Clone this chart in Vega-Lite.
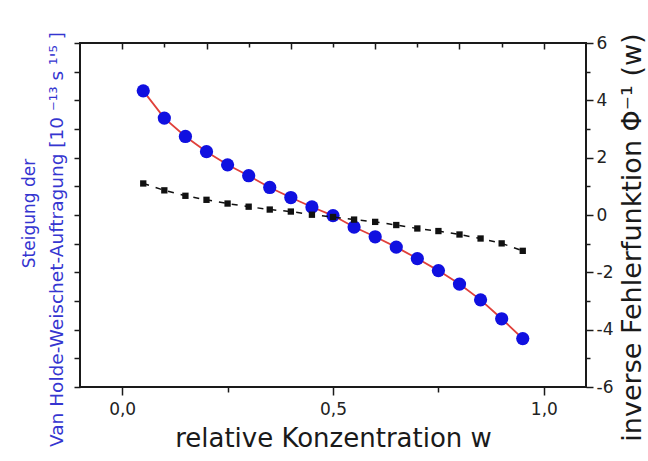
{
  "$schema": "https://vega.github.io/schema/vega-lite/v6.json",
  "autosize": {"type": "none"},
  "padding": {"left": 80, "top": 43, "right": 62, "bottom": 74},
  "width": 506,
  "height": 344,
  "background": "white",
  "config": {
    "view": {"stroke": "#1a1a1a", "strokeWidth": 2},
    "axis": {
      "domain": false,
      "grid": false,
      "tickColor": "#1a1a1a",
      "tickWidth": 1.5,
      "labelFont": "DejaVu Sans",
      "labelFontSize": 17,
      "labelColor": "#222222",
      "titleFont": "DejaVu Sans",
      "titleFontWeight": "normal",
      "titleColor": "#1a1a1a"
    }
  },
  "data": {
    "values": [
      {"w": 0.05, "steigung": 4.33, "phi": 1.10},
      {"w": 0.10, "steigung": 3.38, "phi": 0.86},
      {"w": 0.15, "steigung": 2.74, "phi": 0.67},
      {"w": 0.20, "steigung": 2.21, "phi": 0.53},
      {"w": 0.25, "steigung": 1.75, "phi": 0.40},
      {"w": 0.30, "steigung": 1.37, "phi": 0.29},
      {"w": 0.35, "steigung": 0.96, "phi": 0.19},
      {"w": 0.40, "steigung": 0.61, "phi": 0.12},
      {"w": 0.45, "steigung": 0.28, "phi": 0.01},
      {"w": 0.50, "steigung": -0.02, "phi": -0.07},
      {"w": 0.55, "steigung": -0.42, "phi": -0.16},
      {"w": 0.60, "steigung": -0.76, "phi": -0.24},
      {"w": 0.65, "steigung": -1.12, "phi": -0.35},
      {"w": 0.70, "steigung": -1.52, "phi": -0.47},
      {"w": 0.75, "steigung": -1.94, "phi": -0.56},
      {"w": 0.80, "steigung": -2.41, "phi": -0.68},
      {"w": 0.85, "steigung": -2.96, "phi": -0.82},
      {"w": 0.90, "steigung": -3.62, "phi": -0.99},
      {"w": 0.95, "steigung": -4.31, "phi": -1.25}
    ]
  },
  "resolve": {
    "scale": {"x": "shared", "y": "shared"},
    "axis": {"x": "independent", "y": "independent"}
  },
  "layer": [
    {
      "mark": {"type": "line", "color": "#e0403a", "strokeWidth": 1.8},
      "encoding": {
        "x": {
          "field": "w", "type": "quantitative",
          "scale": {"domain": [-0.1, 1.1], "nice": false, "zero": false},
          "axis": {
            "orient": "bottom",
            "values": [0, 0.5, 1],
            "tickSize": 8,
            "labelPadding": 6,
            "labelExpr": "replace(format(datum.value, '.1f'), '.', ',')",
            "title": "relative Konzentration w",
            "titleFontSize": 26,
            "titleX": 253,
            "titleY": 51,
            "titleBaseline": "middle",
            "titleAlign": "center"
          }
        },
        "y": {
          "field": "steigung", "type": "quantitative",
          "scale": {"domain": [-6, 6], "nice": false, "zero": false},
          "axis": {
            "orient": "left",
            "values": [-6, -5, -4, -3, -2, -1, 0, 1, 2, 3, 4, 5, 6],
            "tickSize": 6,
            "labels": false,
            "title": "Steigung der",
            "titleColor": "#3535d0",
            "titleFontSize": 17,
            "titleAngle": -90,
            "titleX": -51,
            "titleY": 170,
            "titleBaseline": "middle",
            "titleAlign": "center"
          }
        }
      }
    },
    {
      "mark": {"type": "circle", "color": "#1010e0", "opacity": 1, "size": 175},
      "encoding": {
        "x": {
          "field": "w", "type": "quantitative",
          "axis": {
            "orient": "bottom",
            "values": [0.25, 0.75],
            "tickSize": 5,
            "labels": false,
            "title": null
          }
        },
        "y": {
          "field": "steigung", "type": "quantitative",
          "axis": {
            "orient": "left",
            "ticks": false,
            "labels": false,
            "title": "Van Holde-Weischet-Auftragung [10 ⁻¹³ s ¹'⁵  ]",
            "titleColor": "#3535d0",
            "titleFontSize": 18.5,
            "titleAngle": -90,
            "titleX": -24,
            "titleY": 196,
            "titleBaseline": "middle",
            "titleAlign": "center"
          }
        }
      }
    },
    {
      "mark": {"type": "line", "color": "#111111", "strokeWidth": 1.5, "strokeDash": [6, 7]},
      "encoding": {
        "x": {
          "field": "w", "type": "quantitative",
          "axis": {
            "orient": "top",
            "values": [0.1, 0.3, 0.5, 0.7, 0.9],
            "tickSize": -4,
            "labels": false,
            "title": null
          }
        },
        "y": {
          "field": "phi", "type": "quantitative",
          "axis": {
            "orient": "right",
            "values": [-6, -4, -2, 0, 2, 4, 6],
            "tickSize": 7,
            "labelPadding": 3,
            "labelExpr": "'' + datum.value",
            "title": "inverse Fehlerfunktion       Φ⁻¹  (w)",
            "titleFontSize": 27,
            "titleAngle": -90,
            "titleX": 46,
            "titleY": 194,
            "titleBaseline": "middle",
            "titleAlign": "center"
          }
        }
      }
    },
    {
      "mark": {"type": "square", "color": "#111111", "opacity": 1, "size": 40},
      "encoding": {
        "x": {
          "field": "w", "type": "quantitative",
          "axis": {
            "orient": "top",
            "values": [0, 0.2, 0.4, 0.6, 0.8, 1.0],
            "tickSize": -6,
            "labels": false,
            "title": null
          }
        },
        "y": {
          "field": "phi", "type": "quantitative",
          "axis": {
            "orient": "right",
            "values": [-5, -3, -1, 1, 3, 5],
            "tickSize": 4,
            "labels": false,
            "title": null
          }
        }
      }
    }
  ]
}
